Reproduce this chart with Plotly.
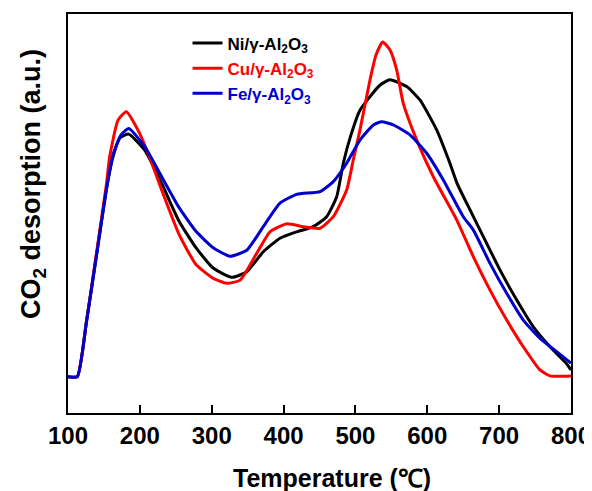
import plotly.graph_objects as go

# Temperature (°C) and CO2 desorption (a.u.)
ni_temp = [100, 112.9, 125.5, 139.4, 153.3, 162.6, 172.4, 184.5, 207.0, 230.7, 254.2, 277.8,
           301.5, 327.8, 348.7, 371.8, 395.0, 418.3, 441.4, 460.0, 473.9, 483.1, 493.8, 506.3,
           534.3, 548.2, 571.4, 590.0, 613.2, 631.7, 641.6, 659.5, 678.0, 701.3, 724.5, 747.6,
           770.8, 794.1, 800]
ni_val = [9.1, 9.1, 22.6, 39.2, 55.9, 64.2, 69.0, 69.9, 65.8, 57.4, 48.2, 41.5,
          36.4, 34.0, 35.4, 40.4, 43.8, 45.4, 46.7, 49.2, 54.2, 62.6, 69.7, 75.9,
          82.2, 83.5, 81.8, 78.4, 70.9, 62.5, 57.5, 50.9, 44.2, 35.8, 28.3, 21.6,
          16.6, 12.3, 10.8]

cu_temp = [100, 112.9, 125.5, 139.4, 153.3, 158.0, 169.6, 181.1, 197.4, 211.7, 230.7, 254.2,
           277.8, 301.5, 320.8, 339.4, 362.6, 381.1, 404.3, 427.4, 450.7, 469.2, 487.8, 497.0,
           506.3, 520.3, 528.6, 537.9, 548.1, 557.4, 566.6, 585.3, 608.4, 640.9, 664.0, 687.3,
           710.5, 733.6, 756.8, 770.7, 800]
cu_val = [9.1, 9.1, 22.6, 39.8, 57.1, 64.2, 73.4, 75.5, 70.9, 65.0, 55.7, 44.9,
          37.3, 33.8, 32.5, 33.3, 40.0, 45.4, 47.4, 46.7, 46.3, 49.2, 55.9, 63.4,
          70.9, 83.5, 89.7, 93.0, 91.0, 86.0, 77.6, 68.4, 59.2, 48.4, 39.2, 30.8,
          23.3, 16.6, 10.8, 9.3, 9.3]

fe_temp = [100, 112.9, 125.5, 139.4, 153.3, 162.6, 173.8, 184.5, 207.0, 230.7, 254.2,
           277.8, 301.5, 325.4, 348.7, 371.8, 395.0, 418.3, 450.7, 469.2, 487.8, 506.3,
           524.9, 536.5, 552.7, 575.9, 599.2, 622.3, 650.1, 664.0, 687.3, 710.5, 733.6, 756.8,
           780.0, 800]
fe_val = [9.1, 9.1, 22.6, 39.2, 55.9, 64.7, 69.7, 71.3, 66.7, 59.1, 51.6,
          45.6, 41.5, 39.3, 40.8, 46.7, 52.6, 54.8, 55.5, 58.0, 62.6, 68.4,
          72.2, 73.0, 72.2, 69.7, 65.1, 58.4, 49.2, 45.9, 37.5, 30.0, 23.3, 18.7,
          15.4, 12.5]

x_ticks = [100, 200, 300, 400, 500, 600, 700, 800]

series = [
    ("Ni", ni_temp, ni_val, "#000000"),
    ("Cu", cu_temp, cu_val, "#ff0000"),
    ("Fe", fe_temp, fe_val, "#0000cc"),
]

fig = go.Figure()
for metal, xs, ys, col in series:
    fig.add_trace(go.Scatter(
        x=xs, y=ys, mode="lines",
        line=dict(color=col, width=3, shape="spline", smoothing=0.5),
        name=f"<span style='color:{col}'><b>{metal}/γ-Al<sub>2</sub>O<sub>3</sub></b></span>",
    ))

font_family = "Arial, Liberation Sans, sans-serif"
# The page body has an 8px margin, so the figure is sized/margined to compensate.
fig.update_layout(
    width=584, height=483,
    margin=dict(l=60, r=21, t=6, b=78, autoexpand=False),
    paper_bgcolor="white", plot_bgcolor="white",
    font=dict(family=font_family, color="black"),
    showlegend=True,
    legend=dict(
        x=0.2376, y=0.971, xanchor="left", yanchor="top",
        bgcolor="rgba(0,0,0,0)", font=dict(size=17, family=font_family),
        tracegroupgap=0,
    ),
    xaxis=dict(
        range=[100, 800], tickvals=x_ticks, ticktext=[str(t) for t in x_ticks],
        ticks="inside", ticklen=8, tickwidth=2, tickcolor="black",
        showline=True, linewidth=2, linecolor="black", mirror=True,
        showgrid=False, zeroline=False, automargin=False,
        tickfont=dict(size=24, family=font_family, weight="bold"),
    ),
    yaxis=dict(
        range=[0, 100], showticklabels=False, ticks="",
        showline=True, linewidth=2, linecolor="black", mirror=True,
        showgrid=False, zeroline=False, automargin=False,
    ),
    annotations=[
        dict(
            text="<b>Temperature (<span style='font-family:Liberation Serif'>℃</span>)</b>",
            xref="paper", yref="paper", x=0.5248, y=-0.163,
            xanchor="center", yanchor="middle", showarrow=False,
            font=dict(size=25, family=font_family, color="black"),
        ),
        dict(
            text="<b>CO<sub>2</sub> desorption (a.u.)</b>",
            xref="paper", yref="paper", x=-0.0696, y=0.574,
            xanchor="center", yanchor="middle", showarrow=False, textangle=-90,
            font=dict(size=27, family=font_family, color="black"),
        ),
    ],
)

fig.write_html("out.html")
